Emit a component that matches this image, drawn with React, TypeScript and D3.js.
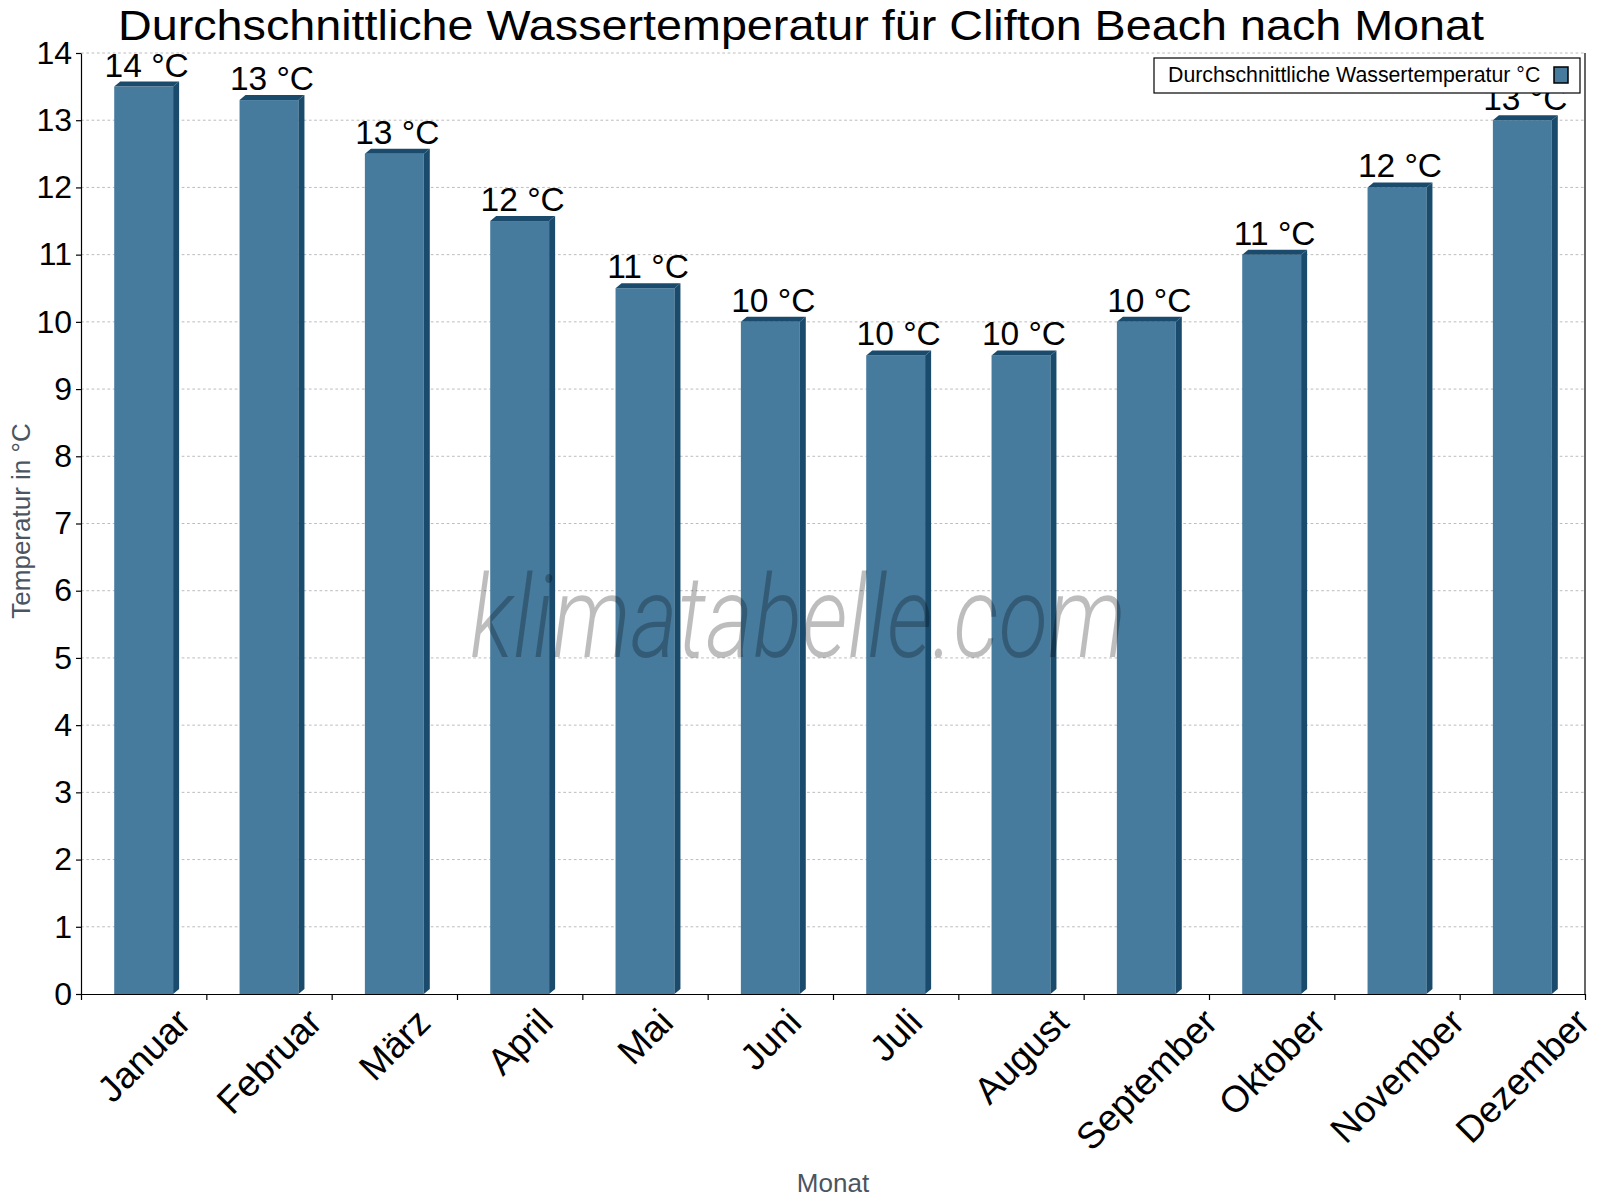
import { useEffect, useRef } from 'react';
import * as d3 from 'd3';

// ─── Data ───────────────────────────────────────────────────

const months = [
  'Januar', 'Februar', 'März', 'April', 'Mai', 'Juni',
  'Juli', 'August', 'September', 'Oktober', 'November', 'Dezember',
];
const waterTemp = [13.5, 13.3, 12.5, 11.5, 10.5, 10, 9.5, 9.5, 10, 11, 12, 13];
const valueLabels = [
  '14 °C', '13 °C', '13 °C', '12 °C', '11 °C', '10 °C',
  '10 °C', '10 °C', '10 °C', '11 °C', '12 °C', '13 °C',
];
const yTicks = [0, 1, 2, 3, 4, 5, 6, 7, 8, 9, 10, 11, 12, 13, 14];

const title = 'Durchschnittliche Wassertemperatur für Clifton Beach nach Monat';
const seriesName = 'Durchschnittliche Wassertemperatur °C';
const yTitle = 'Temperatur in °C';
const xTitle = 'Monat';

// ─── Component ──────────────────────────────────────────────

const W = 1600;
const H = 1200;
const FONT = '"Liberation Sans", Arial, Helvetica, sans-serif';
const FRONT = '#467b9e';
const SIDE = '#1a4b6c';
const AXIS_TITLE = '#4a5561';

export default function App() {
  const svgRef = useRef<SVGSVGElement>(null);

  useEffect(() => {
    document.body.style.margin = '0';
    if (!svgRef.current) return;
    const svg = d3.select(svgRef.current);
    svg.selectAll('*').remove();

    const plot = { left: 81, right: 1585, top: 53, bottom: 994 };

    const x = d3.scaleBand<string>()
      .domain(months)
      .range([plot.left, plot.right]);
    const xEdge = d3.scaleLinear()
      .domain([0, months.length])
      .range([plot.left, plot.right]);
    const y = d3.scaleLinear()
      .domain([0, 14])
      .range([plot.bottom, plot.top]);

    svg.append('rect').attr('width', W).attr('height', H).attr('fill', '#fff');

    // Grid
    svg.append('g').selectAll('line')
      .data(yTicks.filter((t) => t > 0))
      .join('line')
      .attr('x1', plot.left).attr('x2', plot.right)
      .attr('y1', (d) => y(d)).attr('y2', (d) => y(d))
      .attr('stroke', '#bcbcbc')
      .attr('stroke-width', 1)
      .attr('stroke-dasharray', '2.7 2.6');

    // Bars (front, top cap, side)
    const fw = x.bandwidth() * 0.47;
    const dx = 6;
    const dy = 5;
    const bars = svg.append('g');
    months.forEach((m, i) => {
      const cx = (x(m) ?? 0) + x.bandwidth() / 2;
      const x0 = cx - fw / 2;
      const x1 = cx + fw / 2;
      const yv = y(waterTemp[i]);
      const y0 = y(0);
      bars.append('rect')
        .attr('x', x0).attr('y', yv)
        .attr('width', fw).attr('height', y0 - yv)
        .attr('fill', FRONT);
      bars.append('polygon')
        .attr('points', [[x0, yv], [x0 + dx, yv - dy], [x1 + dx, yv - dy], [x1, yv]].map((p) => p.join(',')).join(' '))
        .attr('fill', SIDE);
      bars.append('polygon')
        .attr('points', [[x1, yv], [x1 + dx, yv - dy], [x1 + dx, y0 - dy], [x1, y0]].map((p) => p.join(',')).join(' '))
        .attr('fill', SIDE);
    });

    // Watermark (on top of the bars, translucent)
    svg.append('text')
      .attr('x', 798).attr('y', 657)
      .attr('text-anchor', 'middle')
      .attr('font-family', 'Roboto, "Open Sans", sans-serif')
      .attr('font-weight', 300)
      .attr('font-style', 'italic')
      .attr('font-size', 114)
      .attr('textLength', 656)
      .attr('lengthAdjust', 'spacingAndGlyphs')
      .attr('fill', '#000')
      .attr('fill-opacity', 0.26)
      .text('klimatabelle.com');

    // Value labels
    svg.append('g').selectAll('text')
      .data(months)
      .join('text')
      .attr('x', (m) => (x(m) ?? 0) + x.bandwidth() / 2 + 3)
      .attr('y', (_, i) => y(waterTemp[i]) - 10)
      .attr('text-anchor', 'middle')
      .attr('font-family', FONT)
      .attr('font-size', 33.5)
      .attr('fill', '#000')
      .text((_, i) => valueLabels[i]);

    // Y axis
    svg.append('g')
      .attr('transform', `translate(${plot.left},0)`)
      .call(d3.axisLeft(y).tickValues(yTicks).tickFormat(d3.format('d')).tickSize(5).tickSizeOuter(0).tickPadding(4))
      .call((sel) => sel.selectAll('text').attr('fill', '#000').attr('font-size', 32).attr('font-family', FONT))
      .call((sel) => sel.selectAll('line,path').attr('stroke', '#000').attr('stroke-width', 1.2));

    // X axis (ticks at band edges)
    svg.append('g')
      .attr('transform', `translate(0,${plot.bottom})`)
      .call(d3.axisBottom(xEdge).tickValues(d3.range(months.length + 1)).tickFormat(() => '').tickSize(6).tickSizeOuter(0))
      .call((sel) => sel.selectAll('line,path').attr('stroke', '#000').attr('stroke-width', 1.2));

    // Right border
    svg.append('line')
      .attr('x1', plot.right).attr('x2', plot.right)
      .attr('y1', plot.top).attr('y2', plot.bottom)
      .attr('stroke', '#000').attr('stroke-width', 1.2);

    // Rotated month labels, bbox centred under each band
    const xl = svg.append('g');
    const lf = 37;
    months.forEach((m) => {
      const t = xl.append('text')
        .attr('text-anchor', 'middle')
        .attr('dy', '0.35em')
        .attr('font-family', FONT)
        .attr('font-size', lf)
        .attr('fill', '#000')
        .text(m);
      const w = (t.node() as SVGTextElement).getComputedTextLength();
      const h = lf * 0.72;
      const cx = (x(m) ?? 0) + x.bandwidth() / 2;
      const cy = plot.bottom + 12 + (Math.SQRT1_2 * (w + h)) / 2;
      t.attr('transform', `translate(${cx},${cy}) rotate(-45)`);
    });

    // Axis titles
    svg.append('text')
      .attr('transform', `translate(30,521) rotate(-90)`)
      .attr('text-anchor', 'middle')
      .attr('font-family', FONT)
      .attr('font-size', 26)
      .attr('fill', AXIS_TITLE)
      .text(yTitle);

    svg.append('text')
      .attr('x', (plot.left + plot.right) / 2).attr('y', 1192)
      .attr('text-anchor', 'middle')
      .attr('font-family', FONT)
      .attr('font-size', 26)
      .attr('fill', AXIS_TITLE)
      .text(xTitle);

    // Title
    svg.append('text')
      .attr('x', 801).attr('y', 39.5)
      .attr('text-anchor', 'middle')
      .attr('font-family', FONT)
      .attr('font-size', 43)
      .attr('textLength', 1366)
      .attr('lengthAdjust', 'spacingAndGlyphs')
      .attr('fill', '#000')
      .text(title);

    // Legend
    const lg = svg.append('g');
    lg.append('rect')
      .attr('x', 1154).attr('y', 58)
      .attr('width', 426).attr('height', 35)
      .attr('fill', '#fff')
      .attr('stroke', '#000').attr('stroke-width', 1.2);
    lg.append('text')
      .attr('x', 1168).attr('y', 82)
      .attr('font-family', FONT)
      .attr('font-size', 21.3)
      .attr('fill', '#000')
      .text(seriesName);
    lg.append('rect')
      .attr('x', 1554).attr('y', 67)
      .attr('width', 14).attr('height', 16)
      .attr('fill', FRONT)
      .attr('stroke', '#000').attr('stroke-width', 1.5);
  }, []);

  return <svg ref={svgRef} width={W} height={H} style={{ display: 'block' }} />;
}
